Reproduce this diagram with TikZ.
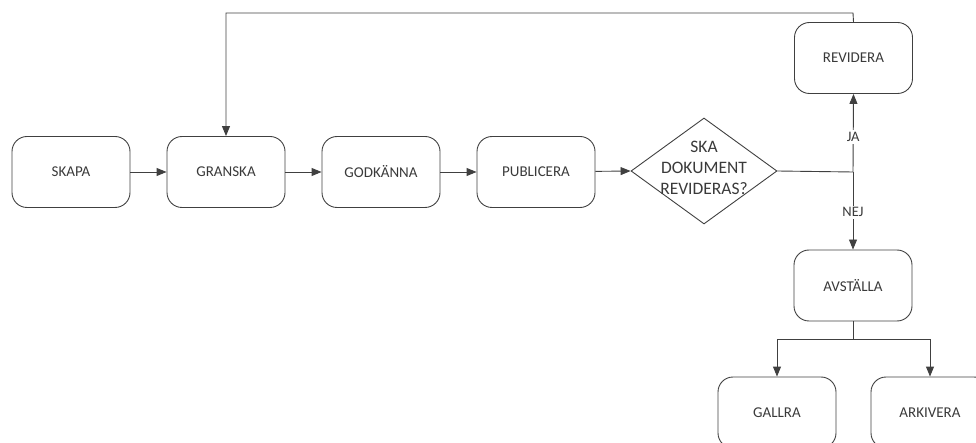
\documentclass[tikz,border=0pt]{standalone}
\usepackage{fontspec}
\setmainfont{Carlito}
\usetikzlibrary{shapes.geometric,arrows.meta}
\definecolor{ln}{HTML}{404040}
\definecolor{tx}{HTML}{3A3A3A}
\tikzset{
  box/.style={draw=ln, line width=0.9pt, rounded corners=15pt, minimum width=118pt, minimum height=71pt, inner sep=0pt, text=tx, font=\fontsize{15}{18}\selectfont},
  arr/.style={draw=ln, line width=0.9pt, -{Triangle[length=10pt,width=8pt]}},
  ln/.style={draw=ln, line width=0.9pt},
  lbl/.style={fill=white, inner sep=2pt, text=tx, font=\fontsize{14.5}{17}\selectfont}
}
\begin{document}
\begin{tikzpicture}[x=1pt,y=-1pt]
\useasboundingbox (0,0) rectangle (976,443);
\node[box] (skapa) at (71,172) {SKAPA};
\node[box] (granska) at (226,172) {GRANSKA};
\node[box] (godk) at (381,172) {GODKÄNNA};
\node[box] (publ) at (536,172) {PUBLICERA};
\node[diamond, draw=ln, line width=0.9pt, minimum width=146pt, minimum height=106pt, inner sep=0pt] (dec) at (704,171) {};
\node[align=center, text=tx, font=\fontsize{17.5}{20.7}\selectfont] (dectext) at (704,168) {SKA\\DOKUMENT\\REVIDERAS?};
\node[box] (revidera) at (853.5,58) {REVIDERA};
\node[box] (avst) at (853,285.5) {AVSTÄLLA};
\node[box] (gallra) at (777,412.5) {GALLRA};
\node[box] (arkivera) at (930,412.5) {ARKIVERA};
\coordinate (j) at (853,172);
\coordinate (t1) at (853,13);
\coordinate (t2) at (226,13);
\coordinate (s) at (853,339);
\draw[arr] (skapa) -- (granska);
\draw[arr] (granska) -- (godk);
\draw[arr] (godk) -- (publ);
\draw[arr] (publ) -- (dec.west);
\draw[ln] (dec.east) -- (j);
\draw[arr] (j) -- node[lbl, pos=0.45] (ja) {JA} (revidera.south);
\draw[arr] (j) -- node[lbl, pos=0.52] (nej) {NEJ} (avst.north);
\draw[arr] (revidera.north) -- (t1) -- (t2) -- (granska.north);
\draw[ln] (avst.south) -- (s);
\draw[arr] (s) -| (gallra.north);
\draw[arr] (s) -| (arkivera.north);
\end{tikzpicture}
\end{document}
